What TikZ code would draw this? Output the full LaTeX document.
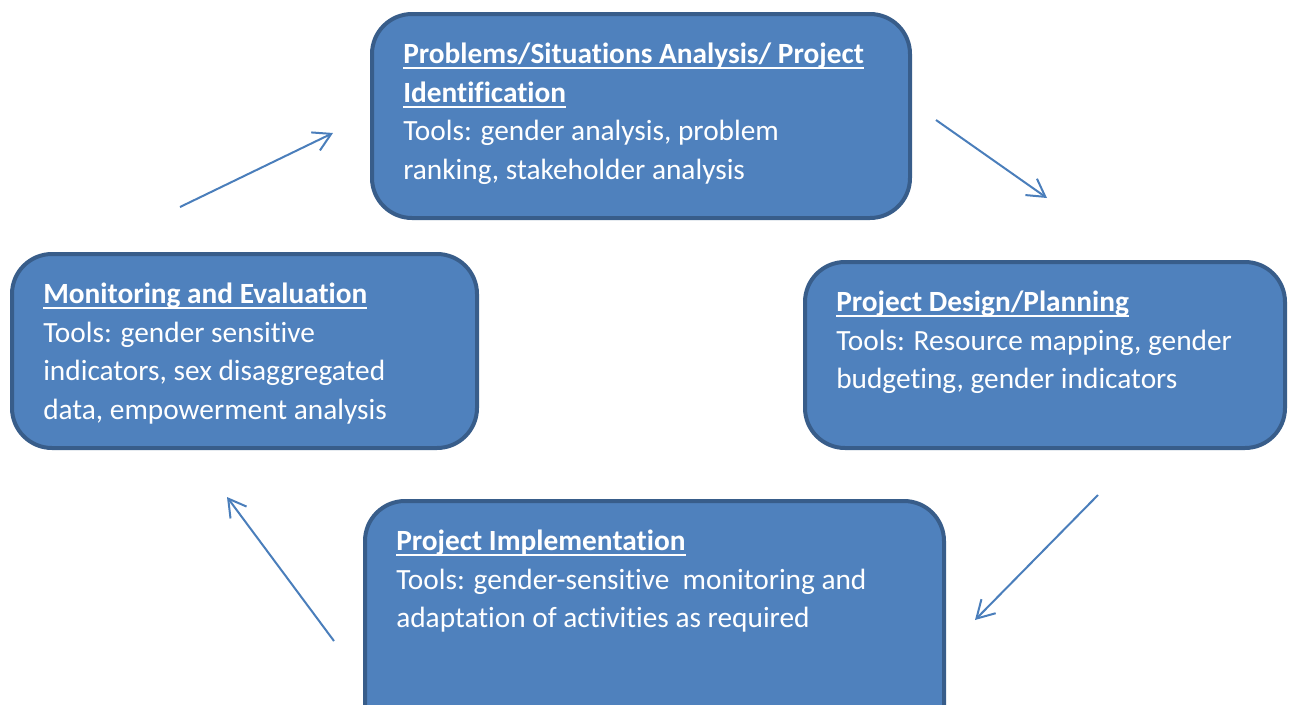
\documentclass[tikz,border=0pt]{standalone}
\usepackage{fontspec}
\setmainfont{Carlito}[Ligatures=NoCommon]
\usetikzlibrary{arrows.meta,positioning}

\definecolor{stagefill}{RGB}{79,129,189}
\definecolor{stagerim}{RGB}{56,93,138}
\definecolor{cyclearrow}{RGB}{74,126,187}

% bold underlined heading, with a fixed first-line height
\newcommand\stagehead[1]{\leavevmode\rule{0pt}{0.8em}\setbox0\hbox{\bfseries #1}\rlap{\vrule width\wd0 height -0.13em depth 0.2em}\box0}

\tikzset{
  stage/.style={draw=stagerim, fill=stagefill, line width=3pt, rounded corners=30pt, inner sep=0pt, outer sep=0pt},
  stagetext/.style={anchor=north west, inner sep=0pt, align=left, text=white, font=\fontsize{22}{29}\selectfont},
  cycle/.style={draw=cyclearrow, line width=1.5pt, -{Straight Barb[length=13pt,width=15pt,line width=1.5pt]}}
}

\begin{document}
\begin{tikzpicture}[x=0.75pt,y=0.75pt,yscale=-1,xscale=1]
\useasboundingbox (0,0) rectangle (1290,704);

% Stage boxes
\node [stage, minimum width=403.5pt, minimum height=153pt] (ident) at (641,116) {};
\node [stage, minimum width=360pt, minimum height=139.5pt] (design) at (1045,355) {};
\node [stage, minimum width=434.25pt, minimum height=183pt] (implement) at (654.5,623) {};
\node [stage, minimum width=348.75pt, minimum height=145.5pt] (monitor) at (244.5,351) {};

% Stage texts
\node [stagetext] (identtxt) at ([xshift=23.25pt,yshift=19.4pt]ident.north west)
  {\stagehead{Problems/Situations Analysis/ Project}\\ \stagehead{Identification}\\ Tools: gender analysis, problem\\ ranking, stakeholder analysis};
\node [stagetext] (designtxt) at ([xshift=23.25pt,yshift=19.4pt]design.north west)
  {\stagehead{Project Design/Planning}\\ Tools: Resource mapping, gender\\ budgeting, gender indicators};
\node [stagetext] (implementtxt) at ([xshift=23.25pt,yshift=19.4pt]implement.north west)
  {\stagehead{Project Implementation}\\ Tools: gender-sensitive\ \ monitoring and\\ adaptation of activities as required};
\node [stagetext] (monitortxt) at ([xshift=23.25pt,yshift=19.4pt]monitor.north west)
  {\stagehead{Monitoring and Evaluation}\\ Tools: gender sensitive\\ indicators, sex disaggregated\\ data, empowerment analysis};

% Arrow ends
\coordinate (a1s) at (180,207);
\coordinate (a1e) at (333,133);
\coordinate (a2s) at (936,120);
\coordinate (a2e) at (1047,198);
\coordinate (a3s) at (1098,495);
\coordinate (a3e) at (975,620);
\coordinate (a4s) at (334,641);
\coordinate (a4e) at (227,497);

% Cycle arrows
\draw [cycle] (a1s) -- (a1e);
\draw [cycle] (a2s) -- (a2e);
\draw [cycle] (a3s) -- (a3e);
\draw [cycle] (a4s) -- (a4e);

\end{tikzpicture}
\end{document}
